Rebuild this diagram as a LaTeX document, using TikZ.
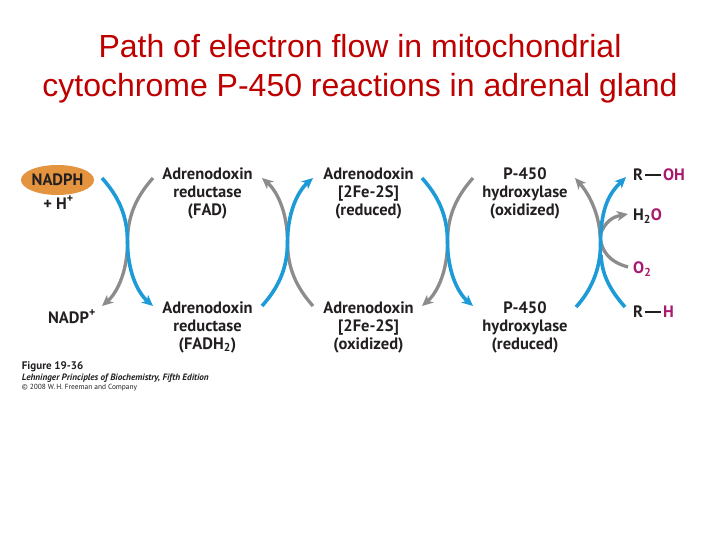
\documentclass[tikz,border=0pt]{standalone}
\usepackage{fontspec}
\setmainfont{Liberation Sans}
\newfontfamily\figfont{PT Sans}
\usepackage{xcolor}
\usepackage{tikz}
\usetikzlibrary{arrows.meta,positioning,shapes.geometric}
\definecolor{PathTitleRed}{HTML}{BE0000}
\definecolor{PathBlue}{HTML}{1C9BD7}
\definecolor{PathGray}{HTML}{8C8C8E}
\definecolor{PathOrange}{HTML}{E4943F}
\definecolor{PathMagenta}{HTML}{A8186E}
\definecolor{PathInk}{HTML}{231F20}
\newcommand\pbond{\hspace{2pt}\rule[0.3em]{16pt}{1.5pt}\hspace{2pt}}
\newcommand\pcharge{\raisebox{0.42em}{\fontsize{12}{12}\selectfont +}}
\tikzset{
  ptitle/.style={font=\fontsize{32}{38}\selectfont,text=PathTitleRed,inner sep=0pt},
  pcarrier/.style={font=\figfont\bfseries\fontsize{16.5}{18}\selectfont,
    text=PathInk,align=center,inner sep=0pt},
  pside/.style={pcarrier,anchor=west},
  pcaption/.style={text=PathInk,anchor=base west,inner sep=0pt},
  ptip/.style={-{Stealth[length=11pt,width=10pt,inset=3pt]}},
  pblue/.style={draw=PathBlue,line width=3.6pt},
  pgray/.style={draw=PathGray,line width=3.3pt},
  pbluearrow/.style={pblue,ptip},
  pgrayarrow/.style={pgray,ptip}
}
\begin{document}
\begin{tikzpicture}[x=1pt,y=-1pt]
  \path[use as bounding box] (0,0) rectangle (720,540);

  % title
  \node[ptitle,anchor=base] (titletop) at (360,58) {Path of electron flow in mitochondrial};
  \node[ptitle,anchor=base] (titlebot) at (360,96.7) {cytochrome P-450 reactions in adrenal gland};

  % carriers
  \node[pcarrier,ellipse,fill=PathOrange,minimum width=72pt,minimum height=30pt]
    (nadph) at (57.5,180) {NADPH};
  \node[pcarrier] (hplus) at (58.3,203) {+ H\pcharge};
  \node[pcarrier] (nadpplus) at (71.7,317) {NADP\pcharge};

  \node[pcarrier] (fad) at (207.5,193.5) {Adrenodoxin\\reductase\\(FAD)};
  \node[pcarrier] (fadh) at (207.5,327) {Adrenodoxin\\reductase\\(FADH\textsubscript{2})};
  \node[pcarrier] (adxred) at (368.5,193.5) {Adrenodoxin\\{[2Fe-2S]}\\(reduced)};
  \node[pcarrier] (adxox) at (368.5,327) {Adrenodoxin\\{[2Fe-2S]}\\(oxidized)};
  \node[pcarrier] (pox) at (525,193.5) {P-450\\hydroxylase\\(oxidized)};
  \node[pcarrier] (pred) at (525,327) {P-450\\hydroxylase\\(reduced)};

  \node[pside] (roh) at (633,175) {R\pbond\textcolor{PathMagenta}{OH}};
  \node[pside] (water) at (633,216) {H\textsubscript{2}\textcolor{PathMagenta}{O}};
  \node[pside] (oxy) at (633,269) {\textcolor{PathMagenta}{O\textsubscript{2}}};
  \node[pside] (rh) at (633,312) {R\pbond\textcolor{PathMagenta}{H}};

  % caption
  \node[pcaption,font=\figfont\bfseries\fontsize{11}{12}\selectfont]
    (fignum) at (21.7,369) {Figure 19-36};
  \node[pcaption,font=\figfont\bfseries\itshape\fontsize{9.2}{10}\selectfont]
    (figbook) at (21.7,380.5) {Lehninger Principles of Biochemistry, Fifth Edition};
  \node[pcaption,font=\figfont\fontsize{7.4}{8}\selectfont]
    (figcopy) at (21.7,389) {\textcopyright{} 2008 W.\,H. Freeman and Company};

  % end points of each exchange
  \foreach \i/\dx in {1/0,2/160,3/320} {
    \coordinate (p\i tl) at (102+\dx,178);
    \coordinate (p\i tr) at (153+\dx,178);
    \coordinate (p\i bl) at (102+\dx,306);
    \coordinate (p\i br) at (153+\dx,306);
    \coordinate (p\i m) at (127.5+\dx,242);
  }
  \coordinate (p4tl) at (575,178);
  \coordinate (p4tr) at (626,177);
  \coordinate (p4bl) at (576,307);
  \coordinate (p4br) at (625,307);
  \coordinate (p4o) at (628,267);
  \coordinate (p4w) at (628,214);
  \coordinate (p4m) at (600,235);
  \coordinate (p4j) at (601,255);
  \coordinate (p4c) at (600.5,245);

  % gray paths
  \draw[pgrayarrow] (p1tr) .. controls +(-16,18) and +(0,-27) .. (p1m)
    .. controls +(0,28) and +(16,-14) .. (p1bl);
  \draw[pgrayarrow] (p2br) .. controls +(-16,-18) and +(0,27) .. (p2m)
    .. controls +(0,-28) and +(16,14) .. (p2tl);
  \draw[pgrayarrow] (p3tr) .. controls +(-16,18) and +(0,-27) .. (p3m)
    .. controls +(0,28) and +(16,-14) .. (p3bl);
  \draw[pgrayarrow] (p4o) .. controls +(-18,-5) and +(1,17) .. (p4m)
    .. controls +(-1,-20) and +(15,17) .. (p4tl);
  \draw[pgrayarrow] (p4m) .. controls +(5,-13) and +(-16,3) .. (p4w);

  % blue paths
  \draw[pbluearrow] (p1tl) .. controls +(16,18) and +(0,-27) .. (p1m)
    .. controls +(0,28) and +(-16,-14) .. (p1br);
  \draw[pbluearrow] (p2bl) .. controls +(16,-18) and +(0,27) .. (p2m)
    .. controls +(0,-28) and +(-16,14) .. (p2tr);
  \draw[pbluearrow] (p3tl) .. controls +(16,18) and +(0,-27) .. (p3m)
    .. controls +(0,28) and +(-16,-14) .. (p3br);
  \draw[pblue] (p4br) .. controls +(-15,-17) and +(1,20) .. (p4j);
  \draw[pbluearrow] (p4bl) .. controls +(14,-15) and +(0,25) .. (p4c)
    .. controls +(0,-40) and +(-15,15) .. (p4tr);
\end{tikzpicture}
\end{document}
